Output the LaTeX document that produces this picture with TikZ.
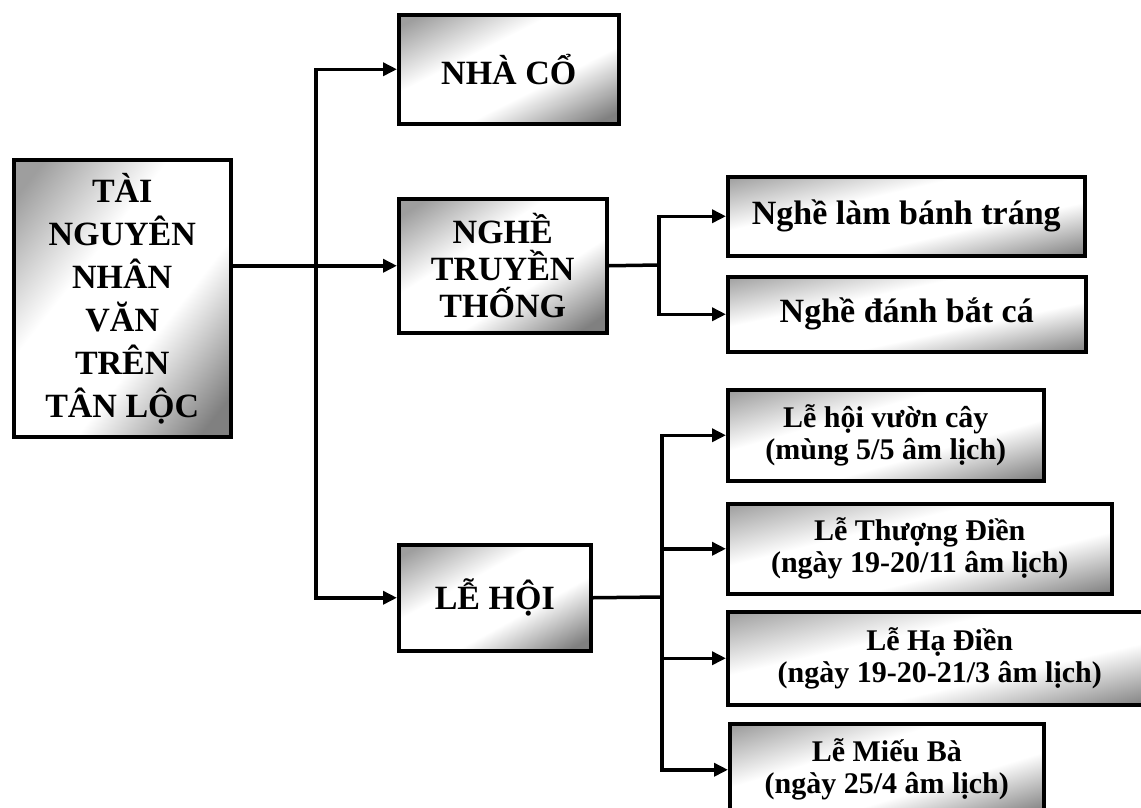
\documentclass[tikz,border=0pt]{standalone}
\usepackage{fontspec}
\setmainfont{Liberation Serif}
\usetikzlibrary{arrows.meta,positioning}

\pgfdeclareverticalshading{boxshade}{100bp}{color(0bp)=(black!50); color(20bp)=(black!50);
  color(40bp)=(white); color(60bp)=(white); color(80bp)=(black!38); color(100bp)=(black!38)}

\begin{document}
\begin{tikzpicture}[
      x=1pt,y=-1pt,
      box/.style={rectangle,draw,line width=3.5pt,anchor=north west,align=center,inner sep=2pt,
        shade,shading=boxshade,shading angle=#1,
        font=\bfseries\fontsize{34}{40}\selectfont},
      box/.default=30,
      sub/.style={box=#1,font=\bfseries\fontsize{30}{32}\selectfont},
      sub/.default=15,
      conn/.style={line width=3.5pt},
      >={Triangle[length=14pt,width=13pt]}
    ]
    \clip (0,0) rectangle (1141,807);

    % Root
    \node[box=52,minimum width=217,minimum height=277,font=\bfseries\fontsize{34}{43}\selectfont]
      (root) at (12,158) {TÀI\\NGUYÊN\\NHÂN\\VĂN\\TRÊN\\TÂN LỘC};

    % Second level
    \node[box=27,minimum width=220,minimum height=109] (nhaco) at (397,13) {NHÀ CỔ};
    \node[box=33,minimum width=208,minimum height=134,font=\bfseries\fontsize{34}{37}\selectfont]
      (nghe) at (397,197) {NGHỀ\\TRUYỀN\\THỐNG};
    \node[box=29,minimum width=192,minimum height=106] (lehoi) at (397,543) {LỄ HỘI};

    % Crafts
    \node[box=13,minimum width=357,minimum height=79] (banh) at (726,175) {Nghề làm bánh tráng};
    \node[box=12,minimum width=358,minimum height=75] (ca) at (726,275) {Nghề đánh bắt cá};

    % Festivals
    \node[sub=16,minimum width=316,minimum height=91] (vuon) at (726,388) {Lễ hội vườn cây\\(mùng 5/5 âm lịch)};
    \node[sub=14,minimum width=384,minimum height=90] (thuong) at (726,502) {Lễ Thượng Điền\\(ngày 19-20/11 âm lịch)};
    \node[sub=13,minimum width=424,minimum height=93] (ha) at (726,610) {Lễ Hạ Điền\\(ngày 19-20-21/3 âm lịch)};
    \node[sub=17,minimum width=314,minimum height=92] (mieu) at (728,722) {Lễ Miếu Bà\\(ngày 25/4 âm lịch)};

    % Junctions
    \coordinate (j1) at (316,265);
    \coordinate (j2) at (659,265);
    \coordinate (j3) at (662,597);

    % Root to second level
    \draw[conn,->] (root.east |- nghe.west) -- (nghe.west);
    \draw[conn,->] (j1) |- (nhaco.west);
    \draw[conn,->] (j1) |- (lehoi.west);

    % Crafts
    \draw[conn] (nghe.east) -- (j2);
    \draw[conn,->] (j2) |- (banh.west);
    \draw[conn,->] (j2) |- (ca.west);

    % Festivals
    \draw[conn] (lehoi.east) -- (j3);
    \draw[conn,->] (j3) |- (vuon.west);
    \draw[conn,->] (j3) |- (thuong.west);
    \draw[conn,->] (j3) |- (ha.west);
    \draw[conn,->] (j3) |- (mieu.west);

  \end{tikzpicture}
\end{document}
